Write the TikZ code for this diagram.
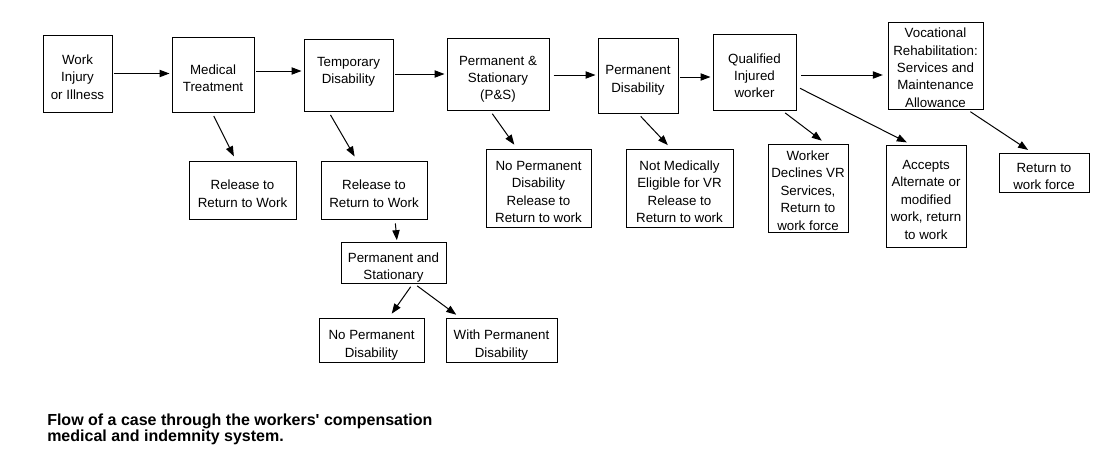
\documentclass[tikz,border=0pt]{standalone}
\usepackage{fontspec}
\setmainfont{Liberation Sans}
\usetikzlibrary{arrows.meta}

\begin{document}
\begin{tikzpicture}[x=0.75pt, y=-0.75pt,
    box/.style={draw, line width=0.75pt, align=center, inner sep=0pt,
      font=\fontsize{10}{13.1}\selectfont},
    link/.style={line width=0.75pt, -{Triangle[length=7.5pt, width=5.5pt]},
      shorten <=1pt, shorten >=1.5pt},
    drop/.style={link, shorten <=3pt, shorten >=3.5pt}]
    \def\pix{0.75pt}

    \useasboundingbox (0,0) rectangle (1115,472);

    % main line
    \node [box, text height=39pt, minimum width=69*\pix, minimum height=77*\pix]
      (injury) at (77.5,73.5) {Work\\Injury\\or Illness};

    \node [box, text height=26pt, minimum width=82*\pix, minimum height=75*\pix]
      (treat) at (213,74.5) {Medical\\Treatment};

    \node [box, text height=15pt, minimum width=89*\pix, minimum height=72*\pix]
      (tempdis) at (348.5,75) {Temporary\\Disability};

    \node [box, text height=41pt, minimum width=102*\pix, minimum height=72*\pix]
      (ps) at (498,74) {Permanent \&\\Stationary\\(P\&S)};

    \node [box, text height=27pt, minimum width=80*\pix, minimum height=75*\pix]
      (permdis) at (638,75.5) {Permanent\\Disability};

    \node [box, text height=39pt, minimum width=83*\pix, minimum height=76*\pix]
      (qiw) at (754.5,72) {Qualified\\Injured\\worker};

    \node [box, text height=63pt, minimum width=95*\pix, minimum height=87*\pix]
      (voc) at (935.5,65.5)
      {Vocational\\Rehabilitation:\\Services and\\Maintenance\\Allowance};

    % outcomes
    \node [box, text height=26pt, minimum width=107*\pix, minimum height=58*\pix]
      (release1) at (242.5,190) {Release to\\Return to Work};

    \node [box, text height=26pt, minimum width=106*\pix, minimum height=58*\pix]
      (release2) at (374,190) {Release to\\Return to Work};

    \node [box, text height=52pt, minimum width=105*\pix, minimum height=78*\pix]
      (nopd1) at (538.5,188) {No Permanent\\Disability\\Release to\\Return to work};

    \node [box, text height=52pt, minimum width=107*\pix, minimum height=78*\pix]
      (notelig) at (679.5,188) {Not Medically\\Eligible for VR\\Release to\\Return to work};

    \node [box, text height=63.5pt, minimum width=80*\pix, minimum height=88*\pix]
      (declines) at (808,188) {Worker\\Declines VR\\Services,\\Return to\\work force};

    \node [box, text height=65pt, minimum width=80*\pix, minimum height=102*\pix]
      (accepts) at (926,196) {Accepts\\Alternate or\\modified\\work, return\\to work};

    \node [box, text height=26pt, minimum width=90*\pix, minimum height=39*\pix]
      (workforce) at (1044,172.5) {Return to\\work force};

    \node [box, text height=28pt, minimum width=105*\pix, minimum height=41*\pix]
      (pands) at (393.5,262.5) {Permanent and\\Stationary};

    \node [box, text height=28pt, minimum width=105*\pix, minimum height=44*\pix]
      (nopd2) at (371.5,340) {No Permanent\\Disability};

    \node [box, text height=28pt, minimum width=111*\pix, minimum height=44*\pix]
      (withpd) at (501.5,340) {With Permanent\\Disability};


    \draw [link] (injury.east) -- (injury.east -| treat.west);

    \draw [link] ([shift={(0,-3.5)}]treat.east) -- ([shift={(0,-4)}]tempdis.west);

    \draw [link] ([shift={(0,-1)}]tempdis.east) -- (ps.west);

    \draw [link, shorten <=3pt] ([shift={(0,1)}]ps.east) -- ([shift={(0,-0.5)}]permdis.west);

    \draw [link] ([shift={(0,1.5)}]permdis.east) -- ([shift={(0,5)}]qiw.west);

    \draw [link, shorten <=3.5pt, shorten >=3.5pt] ([shift={(0,3)}]qiw.east)
      -- ([shift={(0,9.5)}]voc.west);


    \draw [drop] ([shift={(-1,0)}]treat.south) -- ([shift={(-6.5,0)}]release1.north);

    \draw [drop] ([shift={(-20,0)}]tempdis.south) -- ([shift={(-17,0)}]release2.north);

    \draw [drop, shorten >=1pt] ([shift={(21,0)}]release2.south) -- ([shift={(3.5,0)}]pands.north);

    \draw [drop] ([shift={(19.5,0)}]pands.south) -- ([shift={(17.5,0)}]nopd2.north);

    \draw [drop] ([shift={(20.5,0)}]pands.south) -- ([shift={(-41.5,0)}]withpd.north);

    \draw [drop] ([shift={(-8,0)}]ps.south) -- ([shift={(-21.5,0)}]nopd1.north);

    \draw [drop] (permdis.south) -- ([shift={(-8.5,0)}]notelig.north);

    \draw [drop] ([shift={(27.5,0)}]qiw.south) -- ([shift={(17.5,0)}]declines.north);

    \draw [drop] ([shift={(0,14.5)}]qiw.east) -- ([shift={(-15,0)}]accepts.north);

    \draw [drop] ([shift={(31.5,0)}]voc.south) -- ([shift={(-12,0)}]workforce.north);


    \node [anchor=north west, inner sep=0pt, align=left,
      font=\fontsize{12}{12.4}\selectfont\bfseries] (caption) at (47,413.5)
      {Flow of a case through the workers\textquotesingle{} compensation\\medical and indemnity system.};

\end{tikzpicture}
\end{document}
